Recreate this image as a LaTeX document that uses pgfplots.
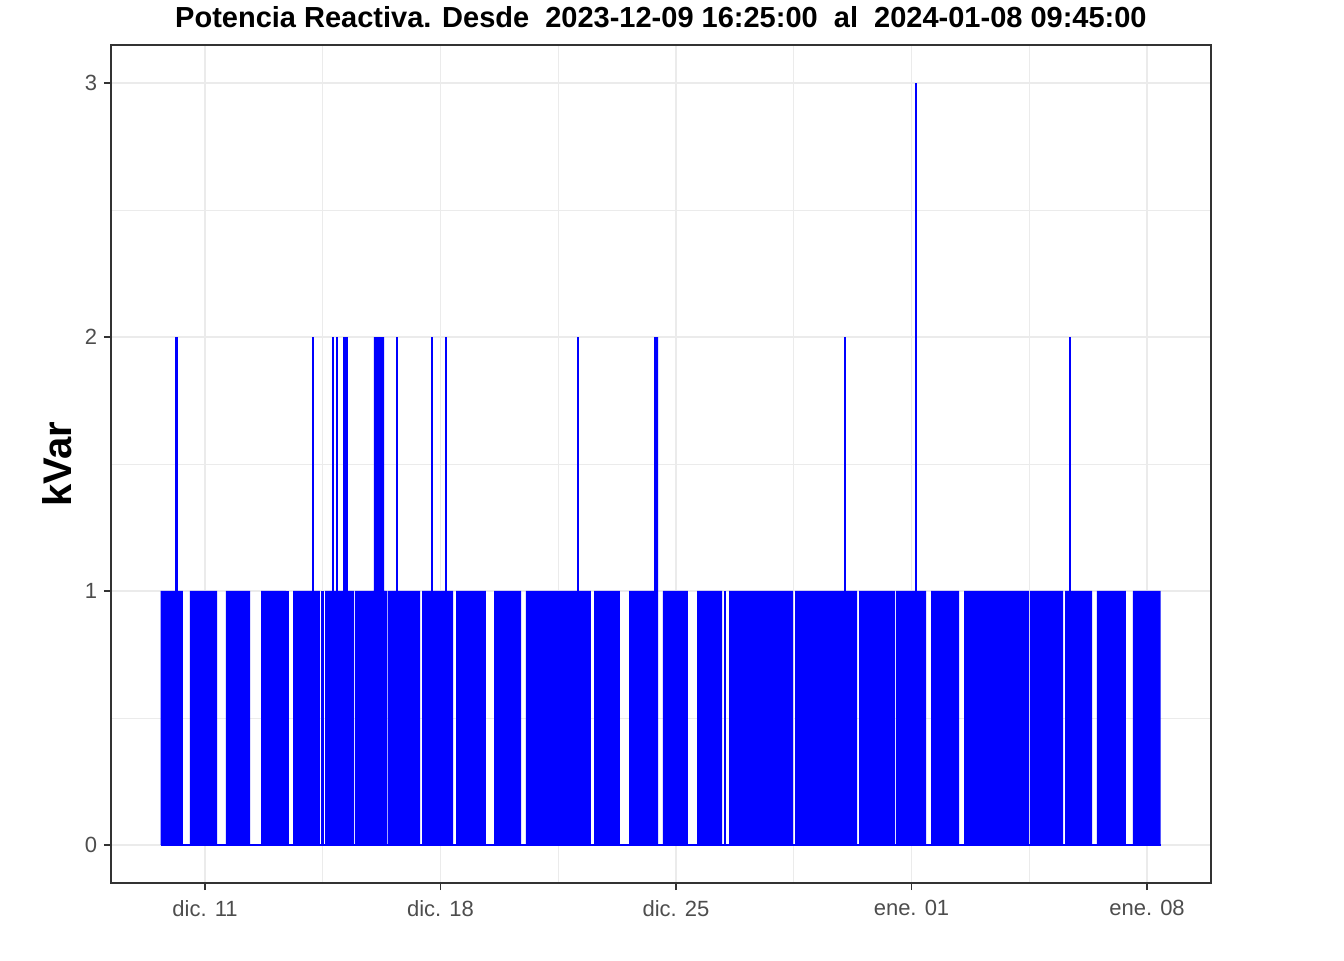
\documentclass[border=0pt]{standalone}
\usepackage{pgfplots}
\pgfplotsset{compat=1.18}
\usepackage{pgfplotstable}
\usepackage{fontspec}
\setmainfont{Liberation Sans}
\definecolor{tickgrey}{HTML}{4D4D4D}
\definecolor{bordergrey}{HTML}{333333}
\definecolor{gridgrey}{HTML}{EBEBEB}
\definecolor{serie}{HTML}{0000FF}

% blocks where the series oscillates densely between 0 and 1 (x = days since 2023-12-11)
\pgfplotstableread{
x y
-1.316 0
-1.316 1
-0.654 1
-0.654 0
-0.446 0
-0.446 1
0.357 1
0.357 0
0.624 0
0.624 1
1.338 1
1.338 0
1.665 0
1.665 1
2.408 1
2.408 0
2.616 0
2.616 1
3.418 1
3.418 0
3.567 0
3.567 1
4.102 1
4.102 2
4.250 2
4.250 1
4.429 1
4.429 0
4.459 0
4.459 1
5.023 1
5.023 2
5.321 2
5.321 1
5.410 1
5.410 0
5.439 0
5.439 1
6.391 1
6.391 0
6.450 0
6.450 1
7.372 1
7.372 0
7.461 0
7.461 1
8.352 1
8.352 0
8.590 0
8.590 1
9.393 1
9.393 0
9.541 0
9.541 1
11.473 1
11.473 0
11.563 0
11.563 1
12.335 1
12.335 0
12.603 0
12.603 1
13.346 1
13.346 2
13.465 2
13.465 0
13.613 0
13.613 1
14.356 1
14.356 0
14.624 0
14.624 1
15.367 1
15.367 0
15.575 0
15.575 1
17.478 1
17.478 0
17.537 0
17.537 1
19.380 1
19.380 0
19.439 0
19.439 1
20.509 1
20.509 0
20.539 0
20.539 1
21.431 1
21.431 0
21.580 0
21.580 1
22.412 1
22.412 0
22.560 0
22.560 1
24.492 1
24.492 0
24.522 0
24.522 1
25.503 1
25.503 0
25.562 0
25.562 1
26.365 1
26.365 0
26.513 0
26.513 1
27.375 1
27.375 0
27.583 0
27.583 1
28.406 1
28.406 0
}\blocks

% isolated peaks
\pgfplotstableread{
x y
-0.847 2
2.452 1
3.210 2
3.493 1
3.805 2
3.924 2
5.707 2
6.747 2
7.163 2
11.087 2
15.456 1
19.023 2
21.134 3
25.711 2
}\peaks

\begin{document}
\begin{tikzpicture}
\useasboundingbox (0,0) rectangle (1008pt,720pt);
\begin{axis}[
  at={(83.25pt,57.75pt)}, anchor=south west,
  scale only axis, width=825pt, height=628.5pt,
  xmin=-2.794, xmax=29.902, ymin=-0.15, ymax=3.15,
  xtick={0,7,14,21,28},
  xticklabels={dic. 11, dic. 18, dic. 25, ene. 01, ene. 08},
  minor xtick={3.5,10.5,17.5,24.5},
  ytick={0,1,2,3},
  minor ytick={0.5,1.5,2.5},
  grid=both,
  major grid style={gridgrey, line width=1.2pt},
  minor grid style={gridgrey, line width=0.6pt},
  axis line style={bordergrey, line width=1pt},
  tick align=outside, xtick pos=bottom, ytick pos=left,
  major tick length=5.25pt, minor tick length=0pt,
  tick style={bordergrey, line width=1pt},
  /pgf/number format/assume math mode=true,
  ticklabel style={font=\fontsize{16.5pt}{20pt}\selectfont, text=tickgrey},
  yticklabel style={inner sep=0pt, xshift=-5pt},
  xticklabel style={inner sep=0pt, yshift=-7.5pt},
  title={Potencia Reactiva. Desde\ \ 2023-12-09 16:25:00\ \ al\ \ 2024-01-08 09:45:00},
  title style={at={(axis description cs:0.5,1)}, anchor=base, yshift=6.75pt, inner sep=0pt,
    font=\bfseries\fontsize{21.75pt}{26pt}\selectfont},
  ylabel={kVar},
  ylabel style={at={(axis description cs:-0.0491,0.5)}, anchor=center,
    font=\bfseries\fontsize{30pt}{36pt}\selectfont},
]
\addplot[serie, line width=1.4pt] coordinates {(-1.316,0) (28.406,0)};
\addplot[draw=none, fill=serie] table[x=x, y=y] {\blocks};
\addplot[ycomb, serie, line width=2pt, mark=none] table[x=x, y=y] {\peaks};
\end{axis}
\end{tikzpicture}
\end{document}
